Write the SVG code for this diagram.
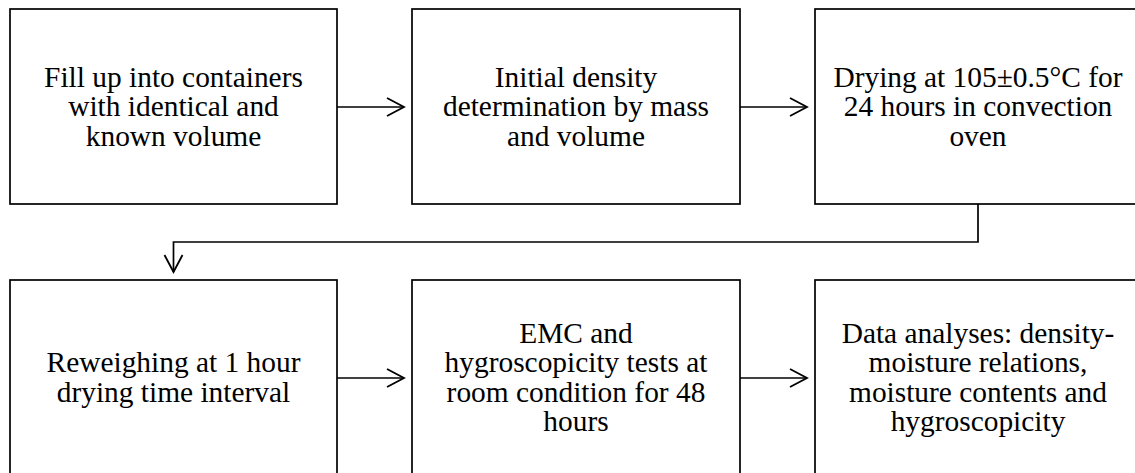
<svg xmlns="http://www.w3.org/2000/svg" width="1135" height="473" viewBox="0 0 1135 473">
  <style>
    .box { fill: #ffffff; stroke: #000000; stroke-width: 1.7; }
    .lbl { font-family: 'Liberation Serif', 'Times New Roman', serif; font-size: 29.4px; fill: #000000; text-anchor: middle; }
    .conn { fill: none; stroke: #000000; stroke-width: 1.7; }
  </style>
  <defs>
    <marker id="arrow" markerUnits="userSpaceOnUse" markerWidth="22" markerHeight="24" viewBox="0 0 22 24" refX="19" refY="12" orient="auto">
      <path d="M2,3 L19,12 L2,21" fill="none" stroke="#000000" stroke-width="1.8"/>
    </marker>
  </defs>
  <rect width="1135" height="473" fill="#ffffff"/>

  <g id="node1">
    <rect class="box" x="10" y="9" width="327" height="195"/>
    <text class="lbl" x="173.5" y="86.5">Fill up into containers</text>
    <text class="lbl" x="173.5" y="116">with identical and</text>
    <text class="lbl" x="173.5" y="145.5">known volume</text>
  </g>
  <g id="node2">
    <rect class="box" x="412" y="9" width="328" height="195"/>
    <text class="lbl" x="576" y="86.5">Initial density</text>
    <text class="lbl" x="576" y="116">determination by mass</text>
    <text class="lbl" x="576" y="145.5">and volume</text>
  </g>
  <g id="node3">
    <rect class="box" x="815" y="9" width="326" height="195"/>
    <text class="lbl" x="978" y="86.5">Drying at 105±0.5°C for</text>
    <text class="lbl" x="978" y="116">24 hours in convection</text>
    <text class="lbl" x="978" y="145.5">oven</text>
  </g>
  <g id="node4">
    <rect class="box" x="10" y="280" width="327" height="196"/>
    <text class="lbl" x="173.5" y="372">Reweighing at 1 hour</text>
    <text class="lbl" x="173.5" y="401.5">drying time interval</text>
  </g>
  <g id="node5">
    <rect class="box" x="412" y="280" width="328" height="196"/>
    <text class="lbl" x="576" y="342.5">EMC and</text>
    <text class="lbl" x="576" y="372">hygroscopicity tests at</text>
    <text class="lbl" x="576" y="401.5">room condition for 48</text>
    <text class="lbl" x="576" y="431">hours</text>
  </g>
  <g id="node6">
    <rect class="box" x="815" y="280" width="326" height="196"/>
    <text class="lbl" x="978" y="342.5">Data analyses: density-</text>
    <text class="lbl" x="978" y="372">moisture relations,</text>
    <text class="lbl" x="978" y="401.5">moisture contents and</text>
    <text class="lbl" x="978" y="431">hygroscopicity</text>
  </g>

  <g id="connectors">
    <path class="conn" d="M337,107 L404,107" marker-end="url(#arrow)"/>
    <path class="conn" d="M740,107 L807,107" marker-end="url(#arrow)"/>
    <path class="conn" d="M978,204 L978,242 L173.5,242 L173.5,272" marker-end="url(#arrow)"/>
    <path class="conn" d="M337,378 L404,378" marker-end="url(#arrow)"/>
    <path class="conn" d="M740,378 L807,378" marker-end="url(#arrow)"/>
  </g>
</svg>
